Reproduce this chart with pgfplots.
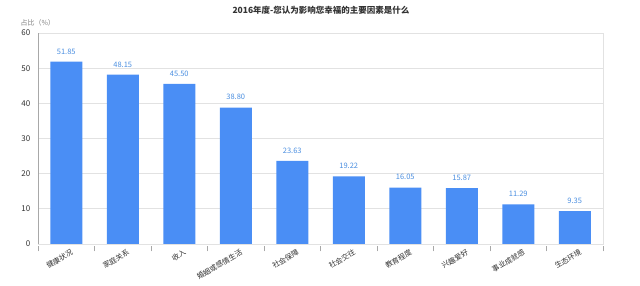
\documentclass[border=0pt]{standalone}
\usepackage{pgfplots}
\pgfplotsset{compat=1.18}
\usepackage{fontspec}
\setmainfont{Noto Sans CJK SC}
\definecolor{barblue}{HTML}{4A8EF5}
\definecolor{lblblue}{HTML}{4A8EE0}
\definecolor{gridc}{HTML}{E2E2E2}
\definecolor{axc}{HTML}{A8A8A8}
\definecolor{txt}{HTML}{333333}
\begin{document}
\begin{tikzpicture}[x=1pt,y=1pt]
\begin{axis}[
  at={(38pt,42pt)}, anchor=south west,
  scale only axis, width=565pt, height=211pt,
  xmin=-0.5, xmax=9.5, ymin=0, ymax=60,
  ytick={0,10,...,60},
  xtick={0,...,9},
  xticklabels={健康状况,家庭关系,收入,婚姻或感情生活,社会保障,社会交往,教育程度,兴趣爱好,事业成就感,生态环境},
  minor xtick={-0.5,0.5,...,9.5},
  x tick label style={rotate=30, anchor=north east, font=\fontsize{7.3}{8}\selectfont, text=txt, inner sep=0.5pt, xshift=4pt, yshift=-2pt},
  y tick label style={font=\fontsize{8}{9}\selectfont, text=txt},
  /pgf/number format/assume math mode=true,
  major x tick style={draw=none},
  minor x tick style={draw=axc, yshift=-2.5pt},
  minor tick length=5pt,
  major y tick style={draw=none},
  ymajorgrids, grid style={gridc, line width=0.8pt},
  axis line style={draw=gridc, line width=0.8pt},
  tick align=outside,
  xtick pos=bottom, ytick pos=left,
  ]
\addplot[ybar, bar width=32pt, fill=barblue, draw=none,
  nodes near coords, nodes near coords align={vertical},
  every node near coord/.append style={font=\fontsize{7.5}{9}\selectfont, text=lblblue, yshift=4pt, /pgf/number format/fixed, /pgf/number format/fixed zerofill, /pgf/number format/precision=2, /pgf/number format/assume math mode=true}
] coordinates {(0,51.85) (1,48.15) (2,45.50) (3,38.80) (4,23.63) (5,19.22) (6,16.05) (7,15.87) (8,11.29) (9,9.35)};
\draw[axc, line width=0.9pt] (axis cs:-0.5,0) -- (axis cs:9.5,0);
\draw[axc, line width=0.9pt] (axis cs:-0.5,0) -- (axis cs:-0.5,60);
\end{axis}
\node[font=\bfseries\fontsize{8.5}{10}\selectfont, text=txt] at (321pt,276pt) {2016年度-您认为影响您幸福的主要因素是什么};
\node[font=\fontsize{7}{8}\selectfont, text=gray, anchor=west] at (17pt,263pt) {占比（\%）};
\pgfresetboundingbox
\useasboundingbox (0,0) rectangle (640pt,286pt);
\end{tikzpicture}
\end{document}
